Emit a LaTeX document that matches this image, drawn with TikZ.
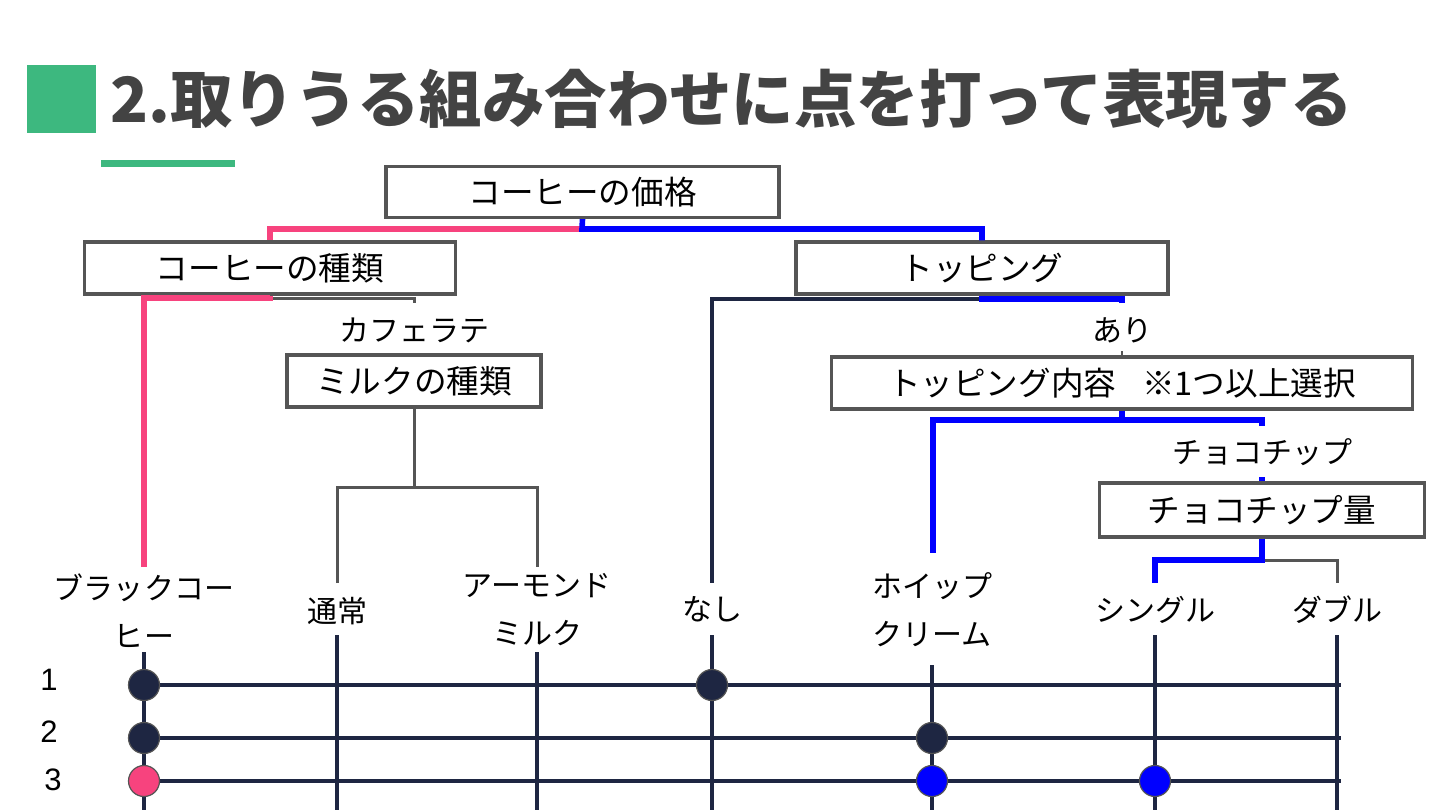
\documentclass[tikz,border=0pt]{standalone}
\usepackage{fontspec}
\setmainfont{Noto Sans CJK JP}
\newfontfamily\numfont{Liberation Sans}
\definecolor{ttl}{HTML}{434343}
\definecolor{grn}{HTML}{3DB87F}
\definecolor{pnk}{HTML}{F7437E}
\definecolor{blu}{HTML}{0000FF}
\definecolor{nvy}{HTML}{1E2642}
\definecolor{bgray}{HTML}{555555}
\begin{document}
\begin{tikzpicture}[x=0.5pt,y=-0.5pt,
 box/.style={draw=bgray,line width=1.6pt,fill=white,inner sep=0pt,font=\fontsize{16.3}{20}\selectfont},
 lab/.style={inner sep=0pt,align=center,font=\fontsize{15}{24}\selectfont},
 pinkline/.style={draw=pnk,line width=2.8pt},
 blueline/.style={draw=blu,line width=2.8pt},
 grayline/.style={draw=bgray,line width=1.5pt},
 navyline/.style={draw=nvy,line width=1.6pt},
 rowline/.style={draw=nvy,line width=2pt},
 dot/.style={circle,draw=bgray,line width=0.6pt,minimum size=15.5pt,inner sep=0pt},
 num/.style={inner sep=0pt,font=\numfont\fontsize{15.5}{16}\selectfont}]
\useasboundingbox (0,0) rectangle (1440,810);
\fill[white] (0,0) rectangle (1440,810);
% title
\fill[grn] (27,65) rectangle (96,133);
\node[anchor=west,inner sep=0pt,text=ttl,font=\bfseries\fontsize{31.2}{31}\selectfont] (title) at (110,99) {2.取りうる組み合わせに点を打って表現する};
\fill[grn] (101,160) rectangle (235,167);
% boxes
\node[box,minimum width=196.5pt,minimum height=25.5pt] (b1) at (582.5,192) {コーヒーの価格};
\node[box,minimum width=185.5pt,minimum height=26pt] (b2) at (270,268) {コーヒーの種類};
\node[box,minimum width=186pt,minimum height=26pt] (b3) at (982,268) {トッピング};
\node[box,minimum width=127pt,minimum height=26pt] (b4) at (414,381) {ミルクの種類};
\node[box,minimum width=290.5pt,minimum height=26pt] (b5) at (1122,383) {トッピング内容\hspace{0.8em}※1つ以上選択};
\node[box,minimum width=162.5pt,minimum height=27pt] (b6) at (1262,510) {チョコチップ量};
% labels
\node[lab] (cafe) at (414,330) {カフェラテ};
\node[lab] (ari) at (1122,330) {あり};
\node[lab] (choco) at (1262,452) {チョコチップ};
\node[lab] (black) at (144,611) {ブラックコー\\ヒー};
\node[lab] (tsujo) at (337,611) {通常};
\node[lab] (almond) at (537,610) {アーモンド\\ミルク};
\node[lab] (nashi) at (712,609) {なし};
\node[lab] (whip) at (932,610) {ホイップ\\クリーム};
\node[lab] (single) at (1155,610) {シングル};
\node[lab] (double) at (1337,610) {ダブル};
% junctions and ends
\coordinate (j1) at (582,229);
\coordinate (j2) at (270,298);
\coordinate (j3) at (414,487);
\coordinate (j4) at (982,299);
\coordinate (j5) at (1122,420);
\coordinate (j6) at (1262,560);
\coordinate (cafeTop) at (414,303);
\coordinate (blackTop) at (144,567);
\coordinate (tsujoTop) at (337,583);
\coordinate (almondTop) at (537,567);
\coordinate (nashiTop) at (712,583);
\coordinate (ariTop) at (1122,303);
\coordinate (ariBot) at (1122,351);
\coordinate (whipTop) at (933,553);
\coordinate (chocoTop) at (1262,426);
\coordinate (chocoBot) at (1262,477);
\coordinate (singleTop) at (1155,583);
\coordinate (doubleTop) at (1337,583);
% tree connectors
\draw[pinkline] (j1) -| (b2.north);
\draw[blueline] (b1.south) -- (j1) -| (b3.north);
\draw[grayline] (j2) -| (cafeTop);
\draw[pinkline] (b2.south) -- (j2) -| (blackTop);
\draw[grayline] (b4.south) -- (j3);
\draw[grayline] (tsujoTop) |- (j3) -| (almondTop);
\draw[navyline] (j4) -| (nashiTop);
\draw[blueline] (b3.south) -- (j4) -| (ariTop);
\draw[bgray,line width=0.8pt] (ariBot) -- (b5.north);
\draw[blueline] (b5.south) -- (j5) -| (whipTop);
\draw[blueline] (j5) -| (chocoTop);
\draw[blueline] (chocoBot) -- (b6.north);
\draw[grayline] (j6) -| (doubleTop);
\draw[blueline] (b6.south) -- (j6) -| (singleTop);
% bottom verticals
\foreach \x/\y in {144/652,337/635,537/652,712/635,932/665,1155/635,1337/635}
  \draw[rowline] (\x,\y) -- (\x,810);
% rows
\draw[rowline] (144,685) -- (1341,685);
\draw[rowline] (144,738) -- (1341,738);
\draw[rowline] (144,781) -- (1341,781);
\node[num] (n1) at (49,680) {1};
\node[num] (n2) at (49,732) {2};
\node[num] (n3) at (53,780) {3};
% dots
\node[dot,fill=nvy] (d11) at (144,685) {};
\node[dot,fill=nvy] (d12) at (712,685) {};
\node[dot,fill=nvy] (d21) at (144,738) {};
\node[dot,fill=nvy] (d22) at (932,738) {};
\node[dot,fill=pnk] (d31) at (144,781) {};
\node[dot,fill=blu] (d32) at (932,781) {};
\node[dot,fill=blu] (d33) at (1155,781) {};
\end{tikzpicture}
\end{document}
